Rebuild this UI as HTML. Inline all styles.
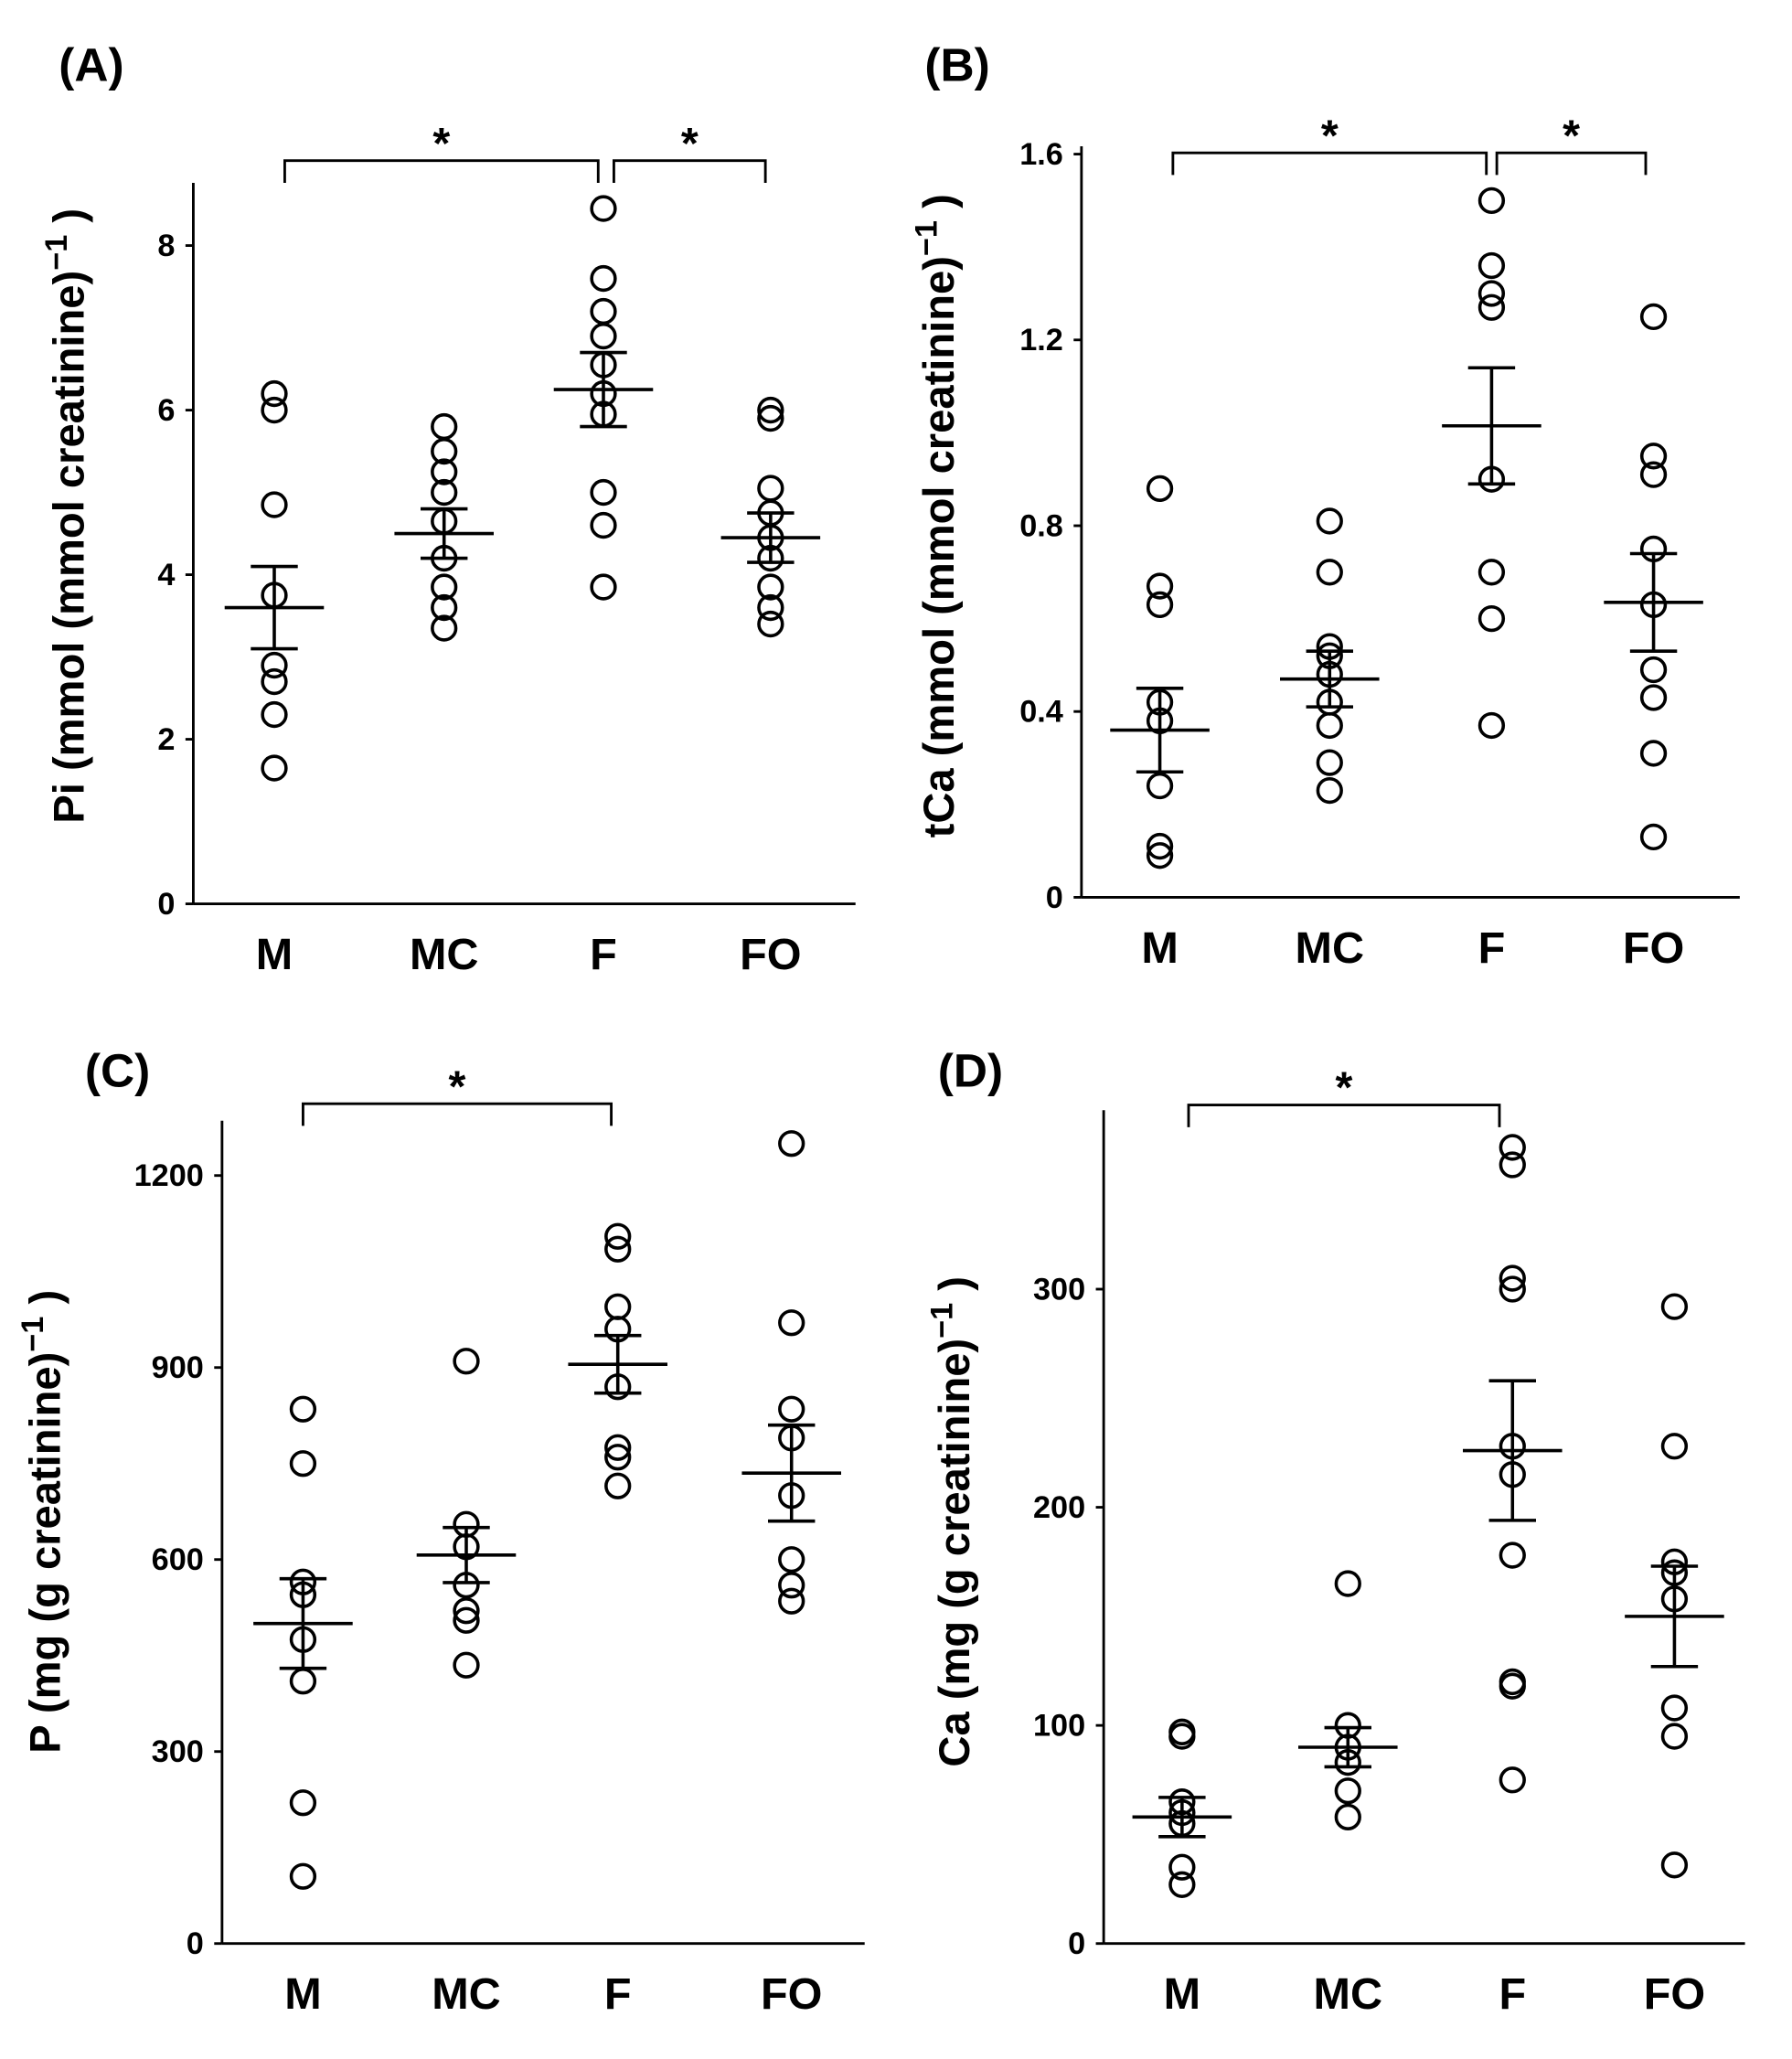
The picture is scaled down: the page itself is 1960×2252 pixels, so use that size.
<!DOCTYPE html>
<html><head><meta charset="utf-8">
<style>
html,body{margin:0;padding:0;background:#fff;}
svg{display:block;}
text{font-family:"Liberation Sans",Arial,sans-serif;font-weight:bold;fill:#000;}
</style></head>
<body>
<svg id="fig" width="1960" height="2252" viewBox="0 0 1372 1576.4" preserveAspectRatio="none" xmlns="http://www.w3.org/2000/svg"></svg>
<script>
const categories = ["M","MC","F","FO"];
// Panel A: Pi
const aPoints = [[6.2,6.0,4.85,3.75,2.9,2.7,2.3,1.65],[5.8,5.5,5.25,5.0,4.65,4.2,3.85,3.6,3.35],[8.45,7.6,7.2,6.9,6.55,6.2,5.95,5.0,4.6,3.85],[6.0,5.9,5.05,4.75,4.45,4.2,3.85,3.6,3.4]];
const aMeans = [3.6,4.5,6.25,4.45];
const aSem = [0.5,0.3,0.45,0.3];
const aTicks = [0,2,4,6,8];
// Panel B: tCa
const bPoints = [[0.88,0.67,0.63,0.42,0.38,0.24,0.11,0.09],[0.81,0.70,0.54,0.52,0.48,0.42,0.37,0.29,0.23],[1.50,1.36,1.30,1.27,0.90,0.70,0.60,0.37],[1.25,0.95,0.91,0.75,0.63,0.49,0.43,0.31,0.13]];
const bMeans = [0.36,0.47,1.015,0.635];
const bSem = [0.09,0.06,0.125,0.105];
const bTicks = [0,0.4,0.8,1.2,1.6];
// Panel C: P
const cPoints = [[835,750,565,545,475,410,220,105],[910,655,620,560,520,505,435],[1105,1085,995,960,870,775,760,715],[1250,970,835,790,700,600,560,535]];
const cMeans = [500,607,905,735];
const cSem = [70,43,45,75];
const cTicks = [0,300,600,900,1200];
// Panel D: Ca
const dPoints = [[97,95,65,60,55,35,27],[165,100,90,83,70,58],[365,357,305,300,228,215,178,120,118,75],[292,228,175,170,158,108,95,36]];
const dMeans = [58,90,226,150];
const dSem = [9,9,32,23];
const dTicks = [0,100,200,300];

const NS="http://www.w3.org/2000/svg";
const svg=document.getElementById('fig');
function mk(tag,attrs,parent){const e=document.createElementNS(NS,tag);for(const k in attrs)e.setAttribute(k,attrs[k]);(parent||svg).appendChild(e);return e;}

const panels=[
 {id:'a',label:'(A)',lx:45,ly:62,ax:148,y0:692,yTopAxis:140,xEnd:655,vmax:8,pxTop:188,cx:[210,340,462,590],pts:aPoints,means:aMeans,sem:aSem,ticks:aTicks,fmt:v=>String(v),
  title:'Pi (mmol (mmol creatinine)',tx:64,ty:395,brk:[[218,458,123,140],[470,586,123,140]]},
 {id:'b',label:'(B)',lx:708,ly:62,ax:828,y0:687,yTopAxis:112,xEnd:1332,vmax:1.6,pxTop:118,cx:[888,1018,1142,1266],pts:bPoints,means:bMeans,sem:bSem,ticks:bTicks,fmt:v=>v===0?'0':v.toFixed(1),
  title:'tCa (mmol (mmol creatinine)',tx:730,ty:395,brk:[[898,1138,117,134],[1146,1260,117,134]]},
 {id:'c',label:'(C)',lx:65,ly:832,ax:170,y0:1488,yTopAxis:858,xEnd:662,vmax:1200,pxTop:900,cx:[232,357,473,606],pts:cPoints,means:cMeans,sem:cSem,ticks:cTicks,fmt:v=>String(v),
  title:'P (mg (g creatinine)',tx:46,ty:1165,brk:[[232,468,845,862]]},
 {id:'d',label:'(D)',lx:718,ly:832,ax:845,y0:1488,yTopAxis:850,xEnd:1336,vmax:300,pxTop:987,cx:[905,1032,1158,1282],pts:dPoints,means:dMeans,sem:dSem,ticks:dTicks,fmt:v=>String(v),
  title:'Ca (mg (g creatinine)',tx:742,ty:1165,brk:[[910,1148,846,863]]}
];

panels.forEach(p=>{
  const g=mk('g',{});
  
  
  const y=v=>p.y0-(v/p.vmax)*(p.y0-p.pxTop);
  const lab=mk('text',{x:p.lx,y:p.ly,'font-size':36},g);lab.textContent=p.label;
  
  
  const ya=mk('line',{x1:p.ax,y1:p.yTopAxis,x2:p.ax,y2:p.y0,stroke:'#000','stroke-width':2},g);
  
  
  const xa=mk('line',{x1:p.ax,y1:p.y0,x2:p.xEnd,y2:p.y0,stroke:'#000','stroke-width':2},g);
  
  
  p.ticks.forEach(t=>{
    mk('line',{x1:p.ax-6,y1:y(t),x2:p.ax,y2:y(t),stroke:'#000','stroke-width':2},g);
    const tl=mk('text',{x:p.ax-14,y:y(t)+8,'font-size':24,'text-anchor':'end'},g);tl.textContent=p.fmt(t);
    
    
  });
  categories.forEach((c,i)=>{
    const cl=mk('text',{x:p.cx[i],y:p.y0+50,'font-size':34,'text-anchor':'middle'},g);cl.textContent=c;
    
    
    p.pts[i].forEach(v=>{
      const pt=mk('circle',{cx:p.cx[i],cy:y(v),r:9,fill:'none',stroke:'#000','stroke-width':2.5},g);
      
      
    });
    const m=p.means[i],s=p.sem[i],x=p.cx[i];
    const ml=mk('line',{x1:x-38,y1:y(m),x2:x+38,y2:y(m),stroke:'#000','stroke-width':2.5},g);
    
    
    const eb=mk('path',{d:`M${x},${y(m-s)}V${y(m+s)}M${x-18},${y(m-s)}H${x+18}M${x-18},${y(m+s)}H${x+18}`,stroke:'#000','stroke-width':2.5,fill:'none'},g);
    
    
  });
  p.brk.forEach(b=>{
    const br=mk('path',{d:`M${b[0]},${b[3]}V${b[2]}H${b[1]}V${b[3]}`,stroke:'#000','stroke-width':2,fill:'none'},g);
    
    
    const st=mk('text',{x:(b[0]+b[1])/2,y:b[2]-2,'font-size':34,'text-anchor':'middle'},g);st.textContent='*';
    
    
  });
  const tt=mk('text',{x:0,y:0,'font-size':33,'text-anchor':'middle',transform:`translate(${p.tx},${p.ty}) rotate(-90)`},g);
  
  
  tt.appendChild(document.createTextNode(p.title));
  const sup=mk('tspan',{dy:-13,'font-size':24},tt);sup.textContent='\u22121';
  const cls=mk('tspan',{dy:13},tt);cls.textContent=' )';
});
</script>
</body></html>
